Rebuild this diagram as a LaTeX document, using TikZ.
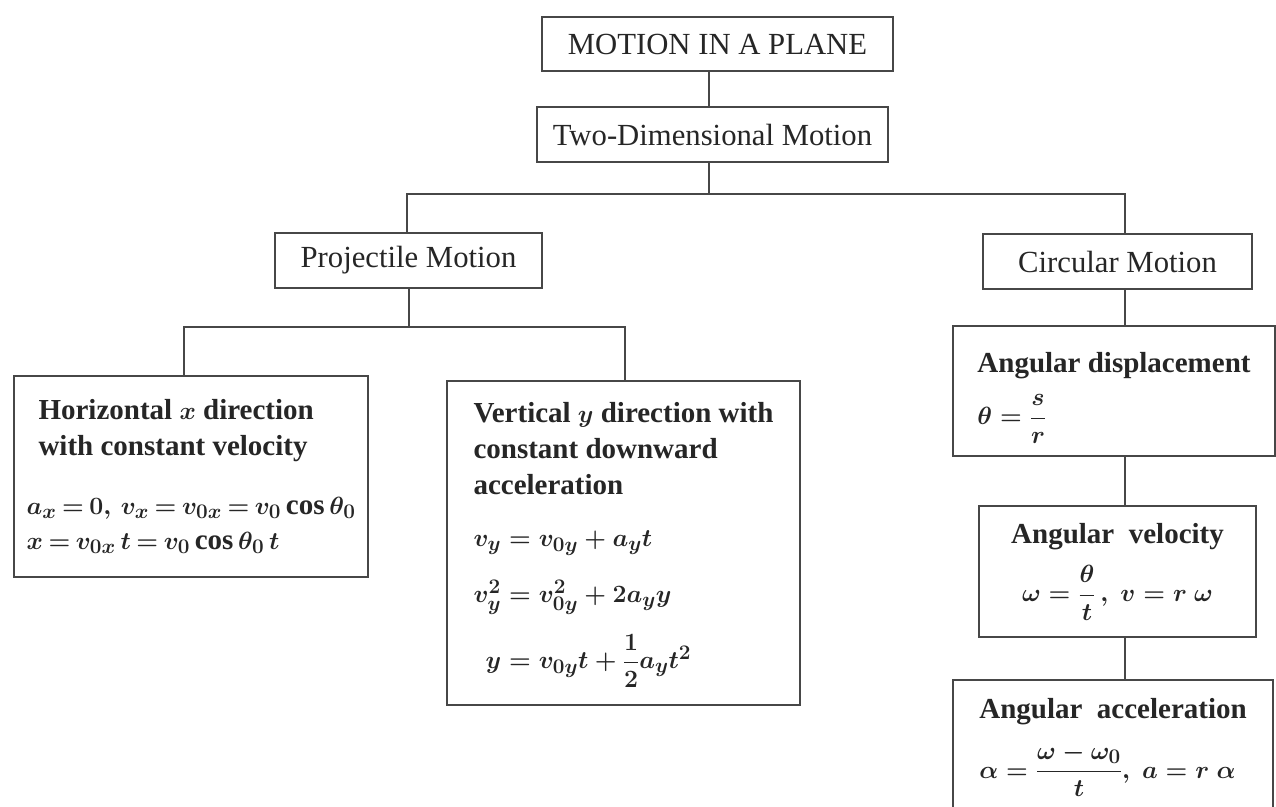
\documentclass[tikz,border=0pt]{standalone}
\usepackage{amsmath}
\usepackage{fontspec}
\setmainfont{Liberation Serif}
\begin{document}
\begin{tikzpicture}[x=1pt,y=-1pt,
  box/.style={draw=black!72, line width=2.4pt, inner xsep=0pt, inner ysep=0pt, text=black!85},
  titlebox/.style={box, font=\fontsize{30.7}{36}\selectfont},
  bodybox/.style={box, font=\bfseries\boldmath\fontsize{29}{36}\selectfont, align=left},
  conn/.style={draw=black!72, line width=2.4pt}]
\useasboundingbox (0,0) rectangle (1276,806);
\fill[white] (0,0) rectangle (1276,806);
\clip (0,0) rectangle (1276,806);

% title boxes
\node[titlebox, minimum width=351, minimum height=54] (top) at (717.5,44) {MOTION IN A PLANE};
\node[titlebox, minimum width=351, minimum height=55] (two) at (712.5,134.5) {Two-Dimensional Motion};
\node[titlebox, minimum width=267, minimum height=55] (proj) at (408.5,260.5) {Projectile Motion};
\node[titlebox, minimum width=269, minimum height=55] (circ) at (1117.5,261.5) {Circular Motion};

% body boxes
\node[bodybox, minimum width=354, minimum height=201] (horiz) at (191,476.5)
 {\hspace*{12pt}Horizontal $x$ direction\\
  \hspace*{12pt}with constant velocity\\[23pt]
  \thickmuskip=3.5mu\relax$a_x = 0,\, v_x = v_{0x} = v_0 \cos\theta_0$\\[-1pt]
  \thickmuskip=3.5mu\relax$x = v_{0x}\,t = v_0\cos\theta_0\, t$};

\node[bodybox, minimum width=353, minimum height=324] (vert) at (623.5,543)
 {\rule{0pt}{24pt}Vertical $y$ direction with\\
  constant downward\\
  acceleration\\[16pt]
  $v_y = v_{0y} + a_y t$\\[20pt]
  $v_y^2 = v_{0y}^2 + 2a_y y$\\[18pt]
  \hspace*{12pt}$y = v_{0y}t + \dfrac{1}{2}a_y t^2$};

\node[bodybox, minimum width=322, minimum height=130] (disp) at (1114,391)
 {\rule{0pt}{34pt}Angular displacement\\[14.5pt]
  $\theta = \dfrac{s}{r}$};

\node[bodybox, align=center, minimum width=277, minimum height=131] (vel) at (1117.5,571.5)
 {Angular\ \ velocity\\[15pt]
  $\omega = \dfrac{\theta}{t}\,,\ v = r\ \omega$};

\node[bodybox, minimum width=320, minimum height=135] (acc) at (1113,747.5)
 {Angular\ \ acceleration\\[18pt]
  $\alpha = \dfrac{\omega-\omega_0}{t},\ a = r\ \alpha$};

% junctions
\coordinate (j1) at (709,194);
\coordinate (jl) at (407,194);
\coordinate (jr) at (1125,194);
\coordinate (j2) at (409,327);
\coordinate (j2l) at (184,327);
\coordinate (j2r) at (625,327);

% connectors
\draw[conn] (top.south -| j1) -- (two.north -| j1);
\draw[conn] (two.south -| j1) -- (j1);
\draw[conn] (proj.north -| jl) -- (jl) -- (jr) -- (circ.north -| jr);
\draw[conn] (proj.south -| j2) -- (j2);
\draw[conn] (horiz.north -| j2l) -- (j2l) -- (j2r) -- (vert.north -| j2r);
\draw[conn] (circ.south -| jr) -- (disp.north -| jr);
\draw[conn] (disp.south -| jr) -- (vel.north -| jr);
\draw[conn] (vel.south -| jr) -- (acc.north -| jr);
\end{tikzpicture}
\end{document}
